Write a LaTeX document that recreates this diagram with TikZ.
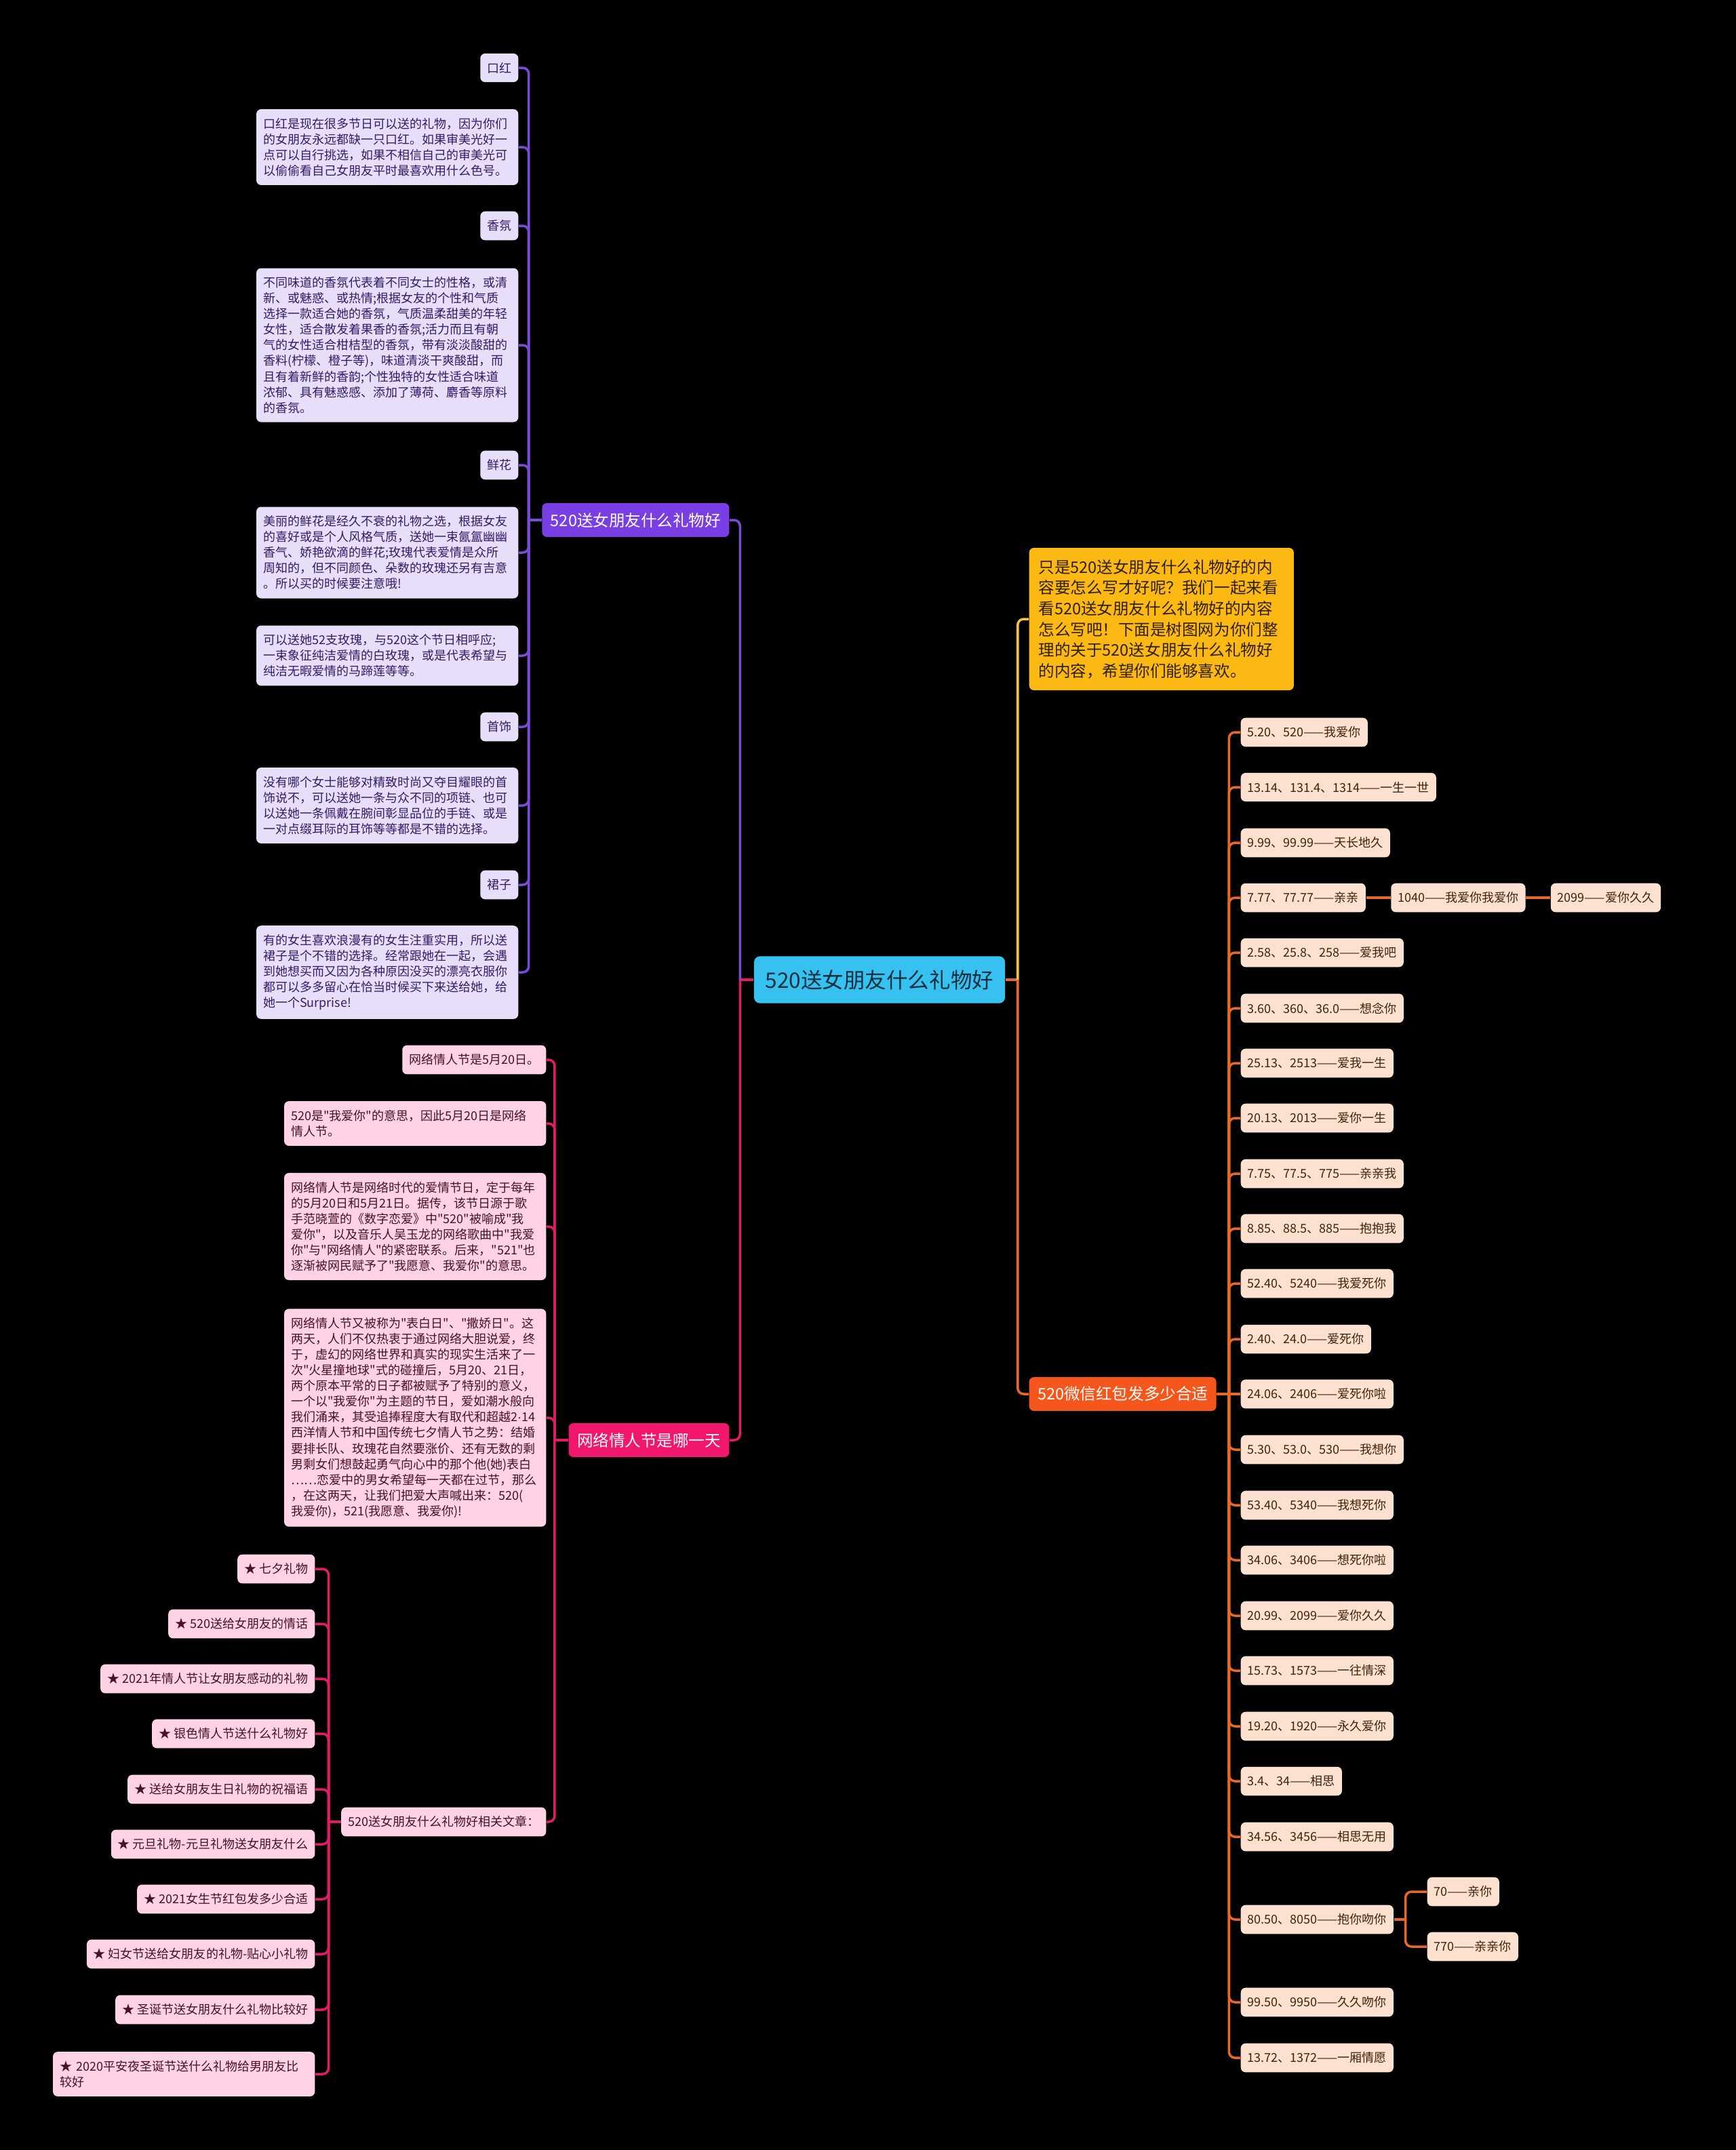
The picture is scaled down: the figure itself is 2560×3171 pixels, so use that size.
\documentclass[tikz,border=0pt]{standalone}
\usepackage{fontspec}
\setmainfont{Noto Sans CJK SC}
\newfontfamily\zhfont{Noto Sans CJK SC}
\newfontfamily\latinfont{Liberation Sans}
\usetikzlibrary{positioning}

\definecolor{bgblack}{HTML}{000000}
\definecolor{rootfill}{HTML}{36C1F1}
\definecolor{roottext}{HTML}{10303F}
\definecolor{purpfill}{HTML}{7A3FE4}
\definecolor{purpline}{HTML}{7B4BD8}
\definecolor{purpleaf}{HTML}{E7DEFA}
\definecolor{purptext}{HTML}{351A66}
\definecolor{pinkfill}{HTML}{F0176D}
\definecolor{pinkline}{HTML}{E21A68}
\definecolor{pinkleaf}{HTML}{FFD2E5}
\definecolor{pinktext}{HTML}{4A1028}
\definecolor{yelfill}{HTML}{FCB813}
\definecolor{yelline}{HTML}{F7C233}
\definecolor{yeltext}{HTML}{2E2000}
\definecolor{orgfill}{HTML}{F5561B}
\definecolor{orgline}{HTML}{E8672B}
\definecolor{orgleaf}{HTML}{FDE1D0}
\definecolor{orgtext}{HTML}{45200D}

\newcommand{\leaffont}{\zhfont\fontsize{5.12pt}{6.55pt}\selectfont}
\newcommand{\branchfont}{\zhfont\fontsize{6.69pt}{8.73pt}\selectfont}
\newcommand{\rootfont}{\zhfont\fontsize{8.96pt}{11pt}\selectfont}

\begin{document}
\begin{tikzpicture}[x=0.01cm, y=-0.01cm]
        % Stiluri
        \tikzstyle{rootbox} = [fill=rootfill, text=roottext, rounded corners=2.5pt, inner xsep=0.17cm, inner ysep=0.2cm, font=\rootfont]
        \tikzstyle{branchbox} = [text=white, rounded corners=2pt, inner xsep=0.125cm, inner ysep=0.14cm, font=\branchfont]
        \tikzstyle{leaf} = [rounded corners=2pt, inner xsep=0.1cm, inner ysep=0.13cm, font=\leaffont]
        \tikzstyle{pleaf} = [leaf, fill=purpleaf, text=purptext]
        \tikzstyle{kleaf} = [leaf, fill=pinkleaf, text=pinktext]
        \tikzstyle{oleaf} = [leaf, fill=orgleaf, text=orgtext]
        \tikzstyle{wide} = [text width=3.66cm, align=left]
        \tikzstyle{purpconn} = [draw=purpline, line width=1pt, rounded corners=2.5pt]
        \tikzstyle{pinkconn} = [draw=pinkline, line width=1pt, rounded corners=2.5pt]
        \tikzstyle{yelconn} = [draw=yelline, line width=1pt, rounded corners=2.5pt]
        \tikzstyle{orgconn} = [draw=orgline, line width=1pt, rounded corners=2.5pt]

        \fill [bgblack] (0,0) rectangle (2560,3171);

        % Tema centrala
        \node [rootbox] (root) at (1297,1445) {520送女朋友什么礼物好};

        % --- Stanga sus: cadouri ---
        \node [branchbox, fill=purpfill, anchor=east] (gift) at (1076,767) {520送女朋友什么礼物好};

        \node [pleaf, anchor=east] (lip) at (765,100) {口红};
        \node [pleaf, wide, anchor=east] (lipd) at (765,217) {口红是现在很多节日可以送的礼物，因为你们\\的女朋友永远都缺一只口红。如果审美光好一\\点可以自行挑选，如果不相信自己的审美光可\\以偷偷看自己女朋友平时最喜欢用什么色号。};
        \node [pleaf, anchor=east] (scent) at (765,333) {香氛};
        \node [pleaf, wide, anchor=east] (scentd) at (765,509) {不同味道的香氛代表着不同女士的性格，或清\\新、或魅惑、或热情;根据女友的个性和气质\\选择一款适合她的香氛，气质温柔甜美的年轻\\女性，适合散发着果香的香氛;活力而且有朝\\气的女性适合柑桔型的香氛，带有淡淡酸甜的\\香料(柠檬、橙子等)，味道清淡干爽酸甜，而\\且有着新鲜的香韵;个性独特的女性适合味道\\浓郁、具有魅惑感、添加了薄荷、麝香等原料\\的香氛。};
        \node [pleaf, anchor=east] (flower) at (765,686) {鲜花};
        \node [pleaf, wide, anchor=east] (flowerd) at (765,815) {美丽的鲜花是经久不衰的礼物之选，根据女友\\的喜好或是个人风格气质，送她一束氤氲幽幽\\香气、娇艳欲滴的鲜花;玫瑰代表爱情是众所\\周知的，但不同颜色、朵数的玫瑰还另有吉意\\。所以买的时候要注意哦!};
        \node [pleaf, wide, anchor=east] (rose) at (765,967) {可以送她52支玫瑰，与520这个节日相呼应;\\一束象征纯洁爱情的白玫瑰，或是代表希望与\\纯洁无暇爱情的马蹄莲等等。};
        \node [pleaf, anchor=east] (jewel) at (765,1072) {首饰};
        \node [pleaf, wide, anchor=east] (jeweld) at (765,1188) {没有哪个女士能够对精致时尚又夺目耀眼的首\\饰说不，可以送她一条与众不同的项链、也可\\以送她一条佩戴在腕间彰显品位的手链、或是\\一对点缀耳际的耳饰等等都是不错的选择。};
        \node [pleaf, anchor=east] (skirt) at (765,1305) {裙子};
        \node [pleaf, wide, anchor=east] (skirtd) at (765,1434) {有的女生喜欢浪漫有的女生注重实用，所以送\\裙子是个不错的选择。经常跟她在一起，会遇\\到她想买而又因为各种原因没买的漂亮衣服你\\都可以多多留心在恰当时候买下来送给她，给\\她一个Surprise!};

        \draw [purpconn] (gift.west) -- ++(-19,0);
        \draw [purpconn] (gift.west) ++(-19,0) |- (lip.east);
        \draw [purpconn] (gift.west) ++(-19,0) |- (lipd.east);
        \draw [purpconn] (gift.west) ++(-19,0) |- (scent.east);
        \draw [purpconn] (gift.west) ++(-19,0) |- (scentd.east);
        \draw [purpconn] (gift.west) ++(-19,0) |- (flower.east);
        \draw [purpconn] (gift.west) ++(-19,0) |- (flowerd.east);
        \draw [purpconn] (gift.west) ++(-19,0) |- (rose.east);
        \draw [purpconn] (gift.west) ++(-19,0) |- (jewel.east);
        \draw [purpconn] (gift.west) ++(-19,0) |- (jeweld.east);
        \draw [purpconn] (gift.west) ++(-19,0) |- (skirt.east);
        \draw [purpconn] (gift.west) ++(-19,0) |- (skirtd.east);

        % --- Stanga jos: ziua ---
        \node [branchbox, fill=pinkfill, anchor=east] (netday) at (1076,2124) {网络情人节是哪一天};

        \node [kleaf, anchor=east] (d520) at (806,1563) {网络情人节是5月20日。};
        \node [kleaf, wide, anchor=east] (meaning) at (806,1657) {520是"我爱你"的意思，因此5月20日是网络\\情人节。};
        \node [kleaf, wide, anchor=east] (origin) at (806,1809) {网络情人节是网络时代的爱情节日，定于每年\\的5月20日和5月21日。据传，该节日源于歌\\手范晓萱的《数字恋爱》中"520"被喻成"我\\爱你"，以及音乐人吴玉龙的网络歌曲中"我爱\\你"与"网络情人"的紧密联系。后来，"521"也\\逐渐被网民赋予了"我愿意、我爱你"的意思。};
        \node [kleaf, wide, anchor=east] (alias) at (806,2091) {网络情人节又被称为"表白日"、"撒娇日"。这\\两天，人们不仅热衷于通过网络大胆说爱，终\\于，虚幻的网络世界和真实的现实生活来了一\\次"火星撞地球"式的碰撞后，5月20、21日，\\两个原本平常的日子都被赋予了特别的意义，\\一个以"我爱你"为主题的节日，爱如潮水般向\\我们涌来，其受追捧程度大有取代和超越2{\latinfont ·}14\\西洋情人节和中国传统七夕情人节之势：结婚\\要排长队、玫瑰花自然要涨价、还有无数的剩\\男剩女们想鼓起勇气向心中的那个他(她)表白\\……恋爱中的男女希望每一天都在过节，那么\\，在这两天，让我们把爱大声喊出来：520(\\我爱你)，521(我愿意、我爱你)!};
        \node [kleaf, anchor=east] (rel) at (806,2687) {520送女朋友什么礼物好相关文章：};

        \draw [pinkconn] (netday.west) -- ++(-20,0);
        \draw [pinkconn] (netday.west) ++(-20,0) |- (d520.east);
        \draw [pinkconn] (netday.west) ++(-20,0) |- (meaning.east);
        \draw [pinkconn] (netday.west) ++(-20,0) |- (origin.east);
        \draw [pinkconn] (netday.west) ++(-20,0) |- (alias.east);
        \draw [pinkconn] (netday.west) ++(-20,0) |- (rel.east);

        % articole
        \node [kleaf, anchor=east] (qixi) at (465,2314) {★ 七夕礼物};
        \node [kleaf, anchor=east] (qinghua) at (465,2395) {★ 520送给女朋友的情话};
        \node [kleaf, anchor=east] (gandong) at (465,2476) {★ 2021年情人节让女朋友感动的礼物};
        \node [kleaf, anchor=east] (yinse) at (465,2557) {★ 银色情人节送什么礼物好};
        \node [kleaf, anchor=east] (zhufu) at (465,2639) {★ 送给女朋友生日礼物的祝福语};
        \node [kleaf, anchor=east] (yuandan) at (465,2720) {★ 元旦礼物-元旦礼物送女朋友什么};
        \node [kleaf, anchor=east] (nvsheng) at (465,2801) {★ 2021女生节红包发多少合适};
        \node [kleaf, anchor=east] (funv) at (465,2882) {★ 妇女节送给女朋友的礼物-贴心小礼物};
        \node [kleaf, anchor=east] (shengdan) at (465,2964) {★ 圣诞节送女朋友什么礼物比较好};
        \node [kleaf, wide, anchor=east] (pingan) at (465,3059) {★ 2020平安夜圣诞节送什么礼物给男朋友比\\较好};

        \draw [pinkconn] (rel.west) -- ++(-18,0);
        \draw [pinkconn] (rel.west) ++(-18,0) |- (qixi.east);
        \draw [pinkconn] (rel.west) ++(-18,0) |- (qinghua.east);
        \draw [pinkconn] (rel.west) ++(-18,0) |- (gandong.east);
        \draw [pinkconn] (rel.west) ++(-18,0) |- (yinse.east);
        \draw [pinkconn] (rel.west) ++(-18,0) |- (zhufu.east);
        \draw [pinkconn] (rel.west) ++(-18,0) |- (yuandan.east);
        \draw [pinkconn] (rel.west) ++(-18,0) |- (nvsheng.east);
        \draw [pinkconn] (rel.west) ++(-18,0) |- (funv.east);
        \draw [pinkconn] (rel.west) ++(-18,0) |- (shengdan.east);
        \draw [pinkconn] (rel.west) ++(-18,0) |- (pingan.east);

        % --- Dreapta: intro si plic rosu ---
        \node [branchbox, fill=yelfill, text=yeltext, text width=3.62cm, align=left, inner xsep=0.14cm, inner ysep=0.17cm, anchor=west] (intro) at (1517,913) {只是520送女朋友什么礼物好的内\\容要怎么写才好呢？我们一起来看\\看520送女朋友什么礼物好的内容\\怎么写吧！下面是树图网为你们整\\理的关于520送女朋友什么礼物好\\的内容，希望你们能够喜欢。};
        \node [branchbox, fill=orgfill, anchor=west] (hongbao) at (1517,2056) {520微信红包发多少合适};

        \node [oleaf, anchor=west] (n520) at (1829,1080) {5.20、520——我爱你};
        \node [oleaf, anchor=west] (n1314) at (1829,1161) {13.14、131.4、1314——一生一世};
        \node [oleaf, anchor=west] (n999) at (1829,1243) {9.99、99.99——天长地久};
        \node [oleaf, anchor=west] (n777) at (1829,1324) {7.77、77.77——亲亲};
        \node [oleaf, right=0.36cm of n777] (n1040) {1040——我爱你我爱你};
        \node [oleaf, right=0.36cm of n1040] (n2099b) {2099——爱你久久};
        \node [oleaf, anchor=west] (n258) at (1829,1405) {2.58、25.8、258——爱我吧};
        \node [oleaf, anchor=west] (n360) at (1829,1487) {3.60、360、36.0——想念你};
        \node [oleaf, anchor=west] (n2513) at (1829,1568) {25.13、2513——爱我一生};
        \node [oleaf, anchor=west] (n2013) at (1829,1649) {20.13、2013——爱你一生};
        \node [oleaf, anchor=west] (n775) at (1829,1731) {7.75、77.5、775——亲亲我};
        \node [oleaf, anchor=west] (n885) at (1829,1812) {8.85、88.5、885——抱抱我};
        \node [oleaf, anchor=west] (n5240) at (1829,1893) {52.40、5240——我爱死你};
        \node [oleaf, anchor=west] (n240) at (1829,1975) {2.40、24.0——爱死你};
        \node [oleaf, anchor=west] (n2406) at (1829,2056) {24.06、2406——爱死你啦};
        \node [oleaf, anchor=west] (n530) at (1829,2138) {5.30、53.0、530——我想你};
        \node [oleaf, anchor=west] (n5340) at (1829,2220) {53.40、5340——我想死你};
        \node [oleaf, anchor=west] (n3406) at (1829,2301) {34.06、3406——想死你啦};
        \node [oleaf, anchor=west] (n2099a) at (1829,2383) {20.99、2099——爱你久久};
        \node [oleaf, anchor=west] (n1573) at (1829,2464) {15.73、1573——一往情深};
        \node [oleaf, anchor=west] (n1920) at (1829,2546) {19.20、1920——永久爱你};
        \node [oleaf, anchor=west] (n34) at (1829,2627) {3.4、34——相思};
        \node [oleaf, anchor=west] (n3456) at (1829,2709) {34.56、3456——相思无用};
        \node [oleaf, anchor=west] (n8050) at (1829,2831) {80.50、8050——抱你吻你};
        \node [oleaf, anchor=west] (n70) at (2104,2790) {70——亲你};
        \node [oleaf, anchor=west] (n770) at (2104,2871) {770——亲亲你};
        \node [oleaf, anchor=west] (n9950) at (1829,2953) {99.50、9950——久久吻你};
        \node [oleaf, anchor=west] (n1372) at (1829,3035) {13.72、1372——一厢情愿};

        \draw [orgconn] (hongbao.east) -- ++(18,0);
        \draw [orgconn] (hongbao.east) ++(18,0) |- (n520.west);
        \draw [orgconn] (hongbao.east) ++(18,0) |- (n1314.west);
        \draw [orgconn] (hongbao.east) ++(18,0) |- (n999.west);
        \draw [orgconn] (hongbao.east) ++(18,0) |- (n777.west);
        \draw [orgconn] (hongbao.east) ++(18,0) |- (n258.west);
        \draw [orgconn] (hongbao.east) ++(18,0) |- (n360.west);
        \draw [orgconn] (hongbao.east) ++(18,0) |- (n2513.west);
        \draw [orgconn] (hongbao.east) ++(18,0) |- (n2013.west);
        \draw [orgconn] (hongbao.east) ++(18,0) |- (n775.west);
        \draw [orgconn] (hongbao.east) ++(18,0) |- (n885.west);
        \draw [orgconn] (hongbao.east) ++(18,0) |- (n5240.west);
        \draw [orgconn] (hongbao.east) ++(18,0) |- (n240.west);
        \draw [orgconn] (hongbao.east) -- (n2406.west);
        \draw [orgconn] (hongbao.east) ++(18,0) |- (n530.west);
        \draw [orgconn] (hongbao.east) ++(18,0) |- (n5340.west);
        \draw [orgconn] (hongbao.east) ++(18,0) |- (n3406.west);
        \draw [orgconn] (hongbao.east) ++(18,0) |- (n2099a.west);
        \draw [orgconn] (hongbao.east) ++(18,0) |- (n1573.west);
        \draw [orgconn] (hongbao.east) ++(18,0) |- (n1920.west);
        \draw [orgconn] (hongbao.east) ++(18,0) |- (n34.west);
        \draw [orgconn] (hongbao.east) ++(18,0) |- (n3456.west);
        \draw [orgconn] (hongbao.east) ++(18,0) |- (n8050.west);
        \draw [orgconn] (hongbao.east) ++(18,0) |- (n9950.west);
        \draw [orgconn] (hongbao.east) ++(18,0) |- (n1372.west);

        \draw [orgconn] (n777.east) -- (n1040.west);
        \draw [orgconn] (n1040.east) -- (n2099b.west);
        \draw [orgconn] (n8050.east) -- ++(17,0);
        \draw [orgconn] (n8050.east) ++(17,0) |- (n70.west);
        \draw [orgconn] (n8050.east) ++(17,0) |- (n770.west);

        % --- Legaturi din centru ---
        \draw [pinkconn] (root.west) -- ++(-20,0);
        \draw [purpconn] (root.west) ++(-20,0) |- (gift.east);
        \draw [pinkconn] (root.west) ++(-20,0) |- (netday.east);
        \draw [orgconn] (root.east) -- ++(18,0);
        \draw [yelconn] (root.east) ++(18,0) |- (intro.west);
        \draw [orgconn] (root.east) ++(18,0) |- (hongbao.west);

\end{tikzpicture}
\end{document}
